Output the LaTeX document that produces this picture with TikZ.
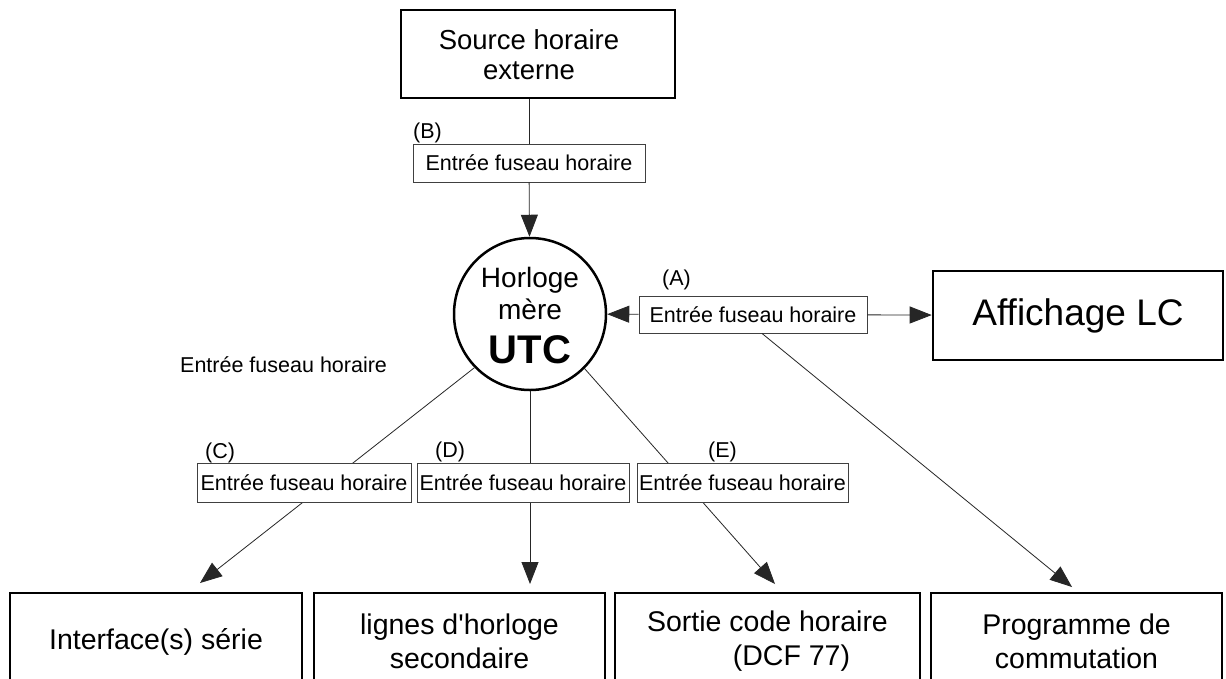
\documentclass[tikz,border=0pt]{standalone}
\usepackage{fontspec}
\setmainfont{Liberation Sans}
\usetikzlibrary{arrows.meta,calc}
\begin{document}
\begin{tikzpicture}[x=1pt,y=-1pt,
  bigbox/.style={draw, line width=2.6pt, rectangle, inner sep=0pt},
  bigtext/.style={inner sep=0pt, align=center, font=\fontsize{28.5}{34}\selectfont},
  tzbox/.style={draw=black!75, line width=0.9pt, fill=white, minimum height=38pt, inner sep=0pt, font=\fontsize{21.5}{25}\selectfont},
  lbl/.style={anchor=base west, inner sep=0pt, font=\fontsize{21.5}{25}\selectfont},
  conn/.style={line width=0.8pt, black!85},
  arr/.style={conn, -{Triangle[length=22pt,width=17pt]}},
]
\useasboundingbox (0,0) rectangle (1226,678);
\fill[white] (0,0) rectangle (1226,678);
\clip (0,0) rectangle (1226,678);

% top source
\node[bigbox, minimum width=274pt, minimum height=88pt] (src) at (538,54) {};
\node[bigtext, font=\fontsize{27.5}{30}\selectfont] (srctxt) at (529,55) {Source horaire\\externe};

% clock
\node[circle, draw, line width=2.5pt, minimum size=152pt, inner sep=0pt] (clock) at (530,314) {};
\node[anchor=base, inner sep=0pt, font=\fontsize{28}{32}\selectfont] (clk1) at (530,287) {Horloge};
\node[anchor=base, inner sep=0pt, font=\fontsize{28}{32}\selectfont] (clk2) at (530,319) {mère};
\node[anchor=base, inner sep=0pt, font=\fontsize{40}{44}\selectfont\bfseries] (clk3) at (530,363) {UTC};

% affichage
\node[bigbox, minimum width=290pt, minimum height=89pt, font=\fontsize{37}{40}\selectfont] (aff) at (1078,315.5) {Affichage LC};

% bottom boxes
\node[bigbox, minimum width=292pt, minimum height=97pt, bigtext] (b1) at (156,641.5) {Interface(s) série};
\node[bigbox, minimum width=291pt, minimum height=97pt, bigtext] (b2) at (459.5,641.5) {lignes d\textquotesingle horloge\\secondaire};
\node[bigbox, minimum width=305pt, minimum height=97pt, bigtext] (b3) at (767.5,641.5) {Sortie code horaire\\\hspace*{48pt}(DCF 77)};
\node[bigbox, minimum width=291pt, minimum height=97pt, bigtext] (b4) at (1076.5,641.5) {Programme de\\commutation};

% arrow tips
\coordinate (tipC) at (200,583);
\coordinate (tipD) at (530,584);
\coordinate (tipE) at (775,584);
\coordinate (tipP) at (1072,587);

% lines from the clock (behind the small boxes)
\draw[arr] (clock.224) -- (tipC);
\draw[arr] (clock.south) -- (tipD);
\draw[arr] (clock.315.5) -- (tipE);

% small time zone boxes
\node[tzbox, minimum width=232pt] (tzB) at (529,163) {Entrée fuseau horaire};
\node[tzbox, minimum width=228pt, minimum height=37pt] (tzA) at (753,314.5) {Entrée fuseau horaire};
\node[tzbox, minimum width=214pt, minimum height=39pt] (tzC) at (304,482.5) {Entrée fuseau horaire};
\node[tzbox, minimum width=212pt, minimum height=39pt] (tzD) at (523,482.5) {Entrée fuseau horaire};
\node[tzbox, minimum width=211pt, minimum height=39pt] (tzE) at (742.5,482.5) {Entrée fuseau horaire};

% labels
\node[lbl] (lB) at (413,138) {(B)};
\node[lbl] (lA) at (662,285) {(A)};
\node[lbl] (lC) at (205,458) {(C)};
\node[lbl] (lD) at (435,457) {(D)};
\node[lbl] (lE) at (708,457) {(E)};
\node[lbl] (free) at (180,372) {Entrée fuseau horaire};

% connectors
\draw[conn] (src.south -| tzB.north) -- (tzB.north);
\draw[arr] (tzB) -- (clock);
\draw[arr] (tzA) -- (clock);
\draw[arr] (tzA) -- (aff);
\draw[arr] ([xshift=9pt]tzA.south) -- (tipP);
\end{tikzpicture}
\end{document}
